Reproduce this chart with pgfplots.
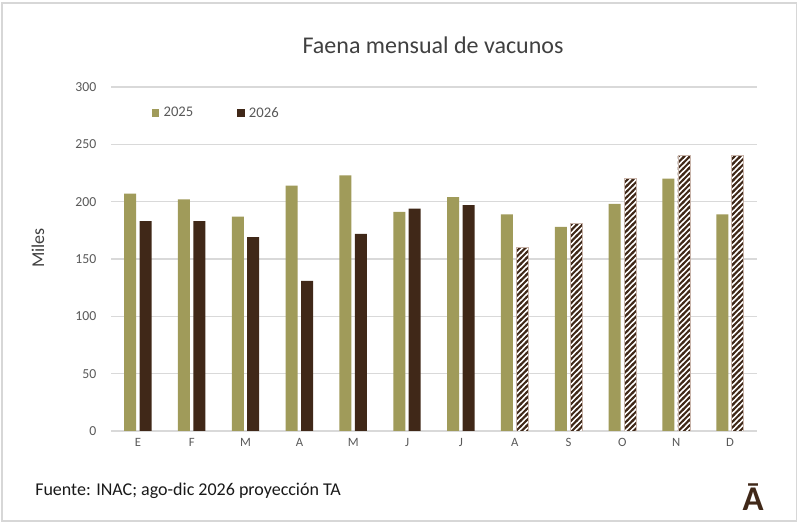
\documentclass[border=0pt]{standalone}
\usepackage{pgfplots}
\pgfplotsset{compat=1.18}
\usepackage{fontspec}
\setmainfont{Carlito}
\usetikzlibrary{patterns}
\definecolor{olive25}{RGB}{160,155,90}
\definecolor{brown26}{RGB}{64,40,24}
\definecolor{hatchborder}{RGB}{200,180,170}
\definecolor{gridgray}{RGB}{217,217,217}
\definecolor{ticktext}{RGB}{89,89,89}
\definecolor{titletext}{RGB}{64,64,64}
\definecolor{framegray}{RGB}{215,215,215}
\pgfdeclarepatternformonly{myhatch}{\pgfqpoint{-1pt}{-1pt}}{\pgfqpoint{5.2pt}{5.2pt}}{\pgfqpoint{4.2pt}{4.2pt}}{%
  \pgfsetlinewidth{1.5pt}%
  \pgfpathmoveto{\pgfqpoint{-0.6pt}{-0.6pt}}%
  \pgfpathlineto{\pgfqpoint{4.8pt}{4.8pt}}%
  \pgfusepath{stroke}%
}
\begin{document}
\begin{tikzpicture}
\useasboundingbox (0,0) rectangle (600pt,395.25pt);
\fill[white] (0,0) rectangle (600pt,395.25pt);
\draw[framegray, line width=0.9pt] (1.5pt,4.5pt) rectangle (597.5pt,393pt);
\begin{axis}[
  at={(83.25pt,72pt)}, anchor=south west,
  scale only axis, width=484.5pt, height=258pt,
  xmin=-0.5, xmax=11.5, ymin=0, ymax=300,
  xtick={0,...,11},
  xticklabels={E,F,M,A,M,J,J,A,S,O,N,D},
  ytick={0,50,...,300},
  /pgf/number format/assume math mode=true,
  axis line style={draw=none},
  major tick length=0pt,
  ymajorgrids, grid style={gridgray, line width=0.8pt},
  xticklabel style={font=\fontsize{9.5}{11}\selectfont, text=ticktext, inner sep=0pt, anchor=north, yshift=-5pt},
  yticklabel style={font=\fontsize{10.3}{12}\selectfont, text=ticktext, inner sep=0pt, anchor=east, xshift=-10.8pt},
  legend columns=2,
  legend style={draw=none, fill=none, inner sep=0pt, outer sep=0pt,
    at={(rel axis cs:0.0635,0.924)}, anchor=west,
    font=\fontsize{11}{13}\selectfont, text=ticktext,
    nodes={inner sep=0pt},
    /tikz/every odd column/.append style={column sep=3.2pt},
    /tikz/every even column/.append style={column sep=33pt}},
  legend image code/.code={\fill[#1] (0pt,-2.75pt) rectangle (5.5pt,2.75pt);},
]
\addplot[ybar, bar width=9pt, bar shift=-5.85pt, fill=olive25, draw=none]
  coordinates {(0,207) (1,202) (2,187) (3,214) (4,223) (5,191) (6,204) (7,189) (8,178) (9,198) (10,220) (11,189)};
\addlegendentry{2025}
\addplot[ybar, bar width=9pt, bar shift=5.7pt, fill=brown26, draw=none]
  coordinates {(0,183) (1,183) (2,169) (3,131) (4,172) (5,194) (6,197)};
\addlegendentry{2026}
\addplot[ybar, bar width=9pt, bar shift=5.7pt, forget plot, preaction={fill=white}, pattern=myhatch, pattern color=brown26, draw=hatchborder, line width=0.5pt]
  coordinates {(7,160) (8,181) (9,220) (10,240) (11,240)};
\end{axis}
\node[anchor=base, text=titletext, font=\fontsize{18}{21}\selectfont] at (324.75pt,355.3pt) {Faena mensual de vacunos};
\node[rotate=90, text=titletext, font=\fontsize{13.5}{16}\selectfont] at (28.5pt,209.25pt) {Miles};
\node[anchor=base west, inner sep=0pt, text=black!90, font=\fontsize{13.5}{16}\selectfont] at (26.25pt,23.25pt) {Fuente: INAC; ago-dic 2026 proyección TA};
\node[anchor=base, inner sep=0pt, text=brown26, font=\bfseries\fontsize{26}{28}\selectfont] at (564.75pt,12pt) {Ā};
\end{tikzpicture}
\end{document}
